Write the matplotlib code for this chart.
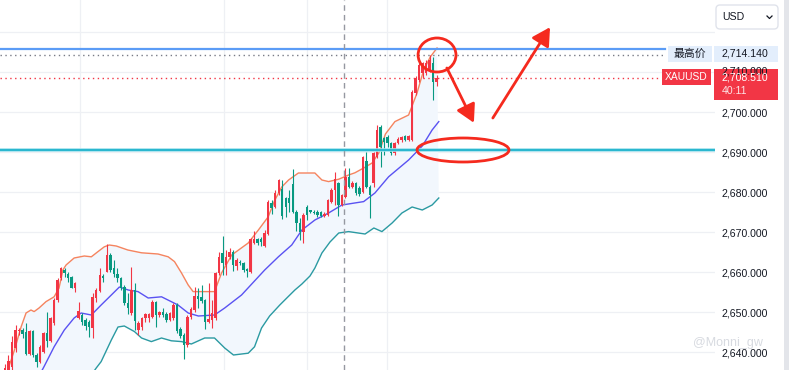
import matplotlib
matplotlib.use("Agg")
import matplotlib.pyplot as plt
import numpy as np
from matplotlib.patches import Ellipse, Rectangle, FancyBboxPatch

plt.rcParams['font.family'] = ['Liberation Sans', 'Noto Sans CJK SC', 'DejaVu Sans']

# candles (open, high, low, close)
opens = [2634.5, 2635.5, 2636.3, 2640.9, 2645.3, 2645.5, 2645.1, 2639.4, 2645.25, 2639.25,
         2637.6, 2640.1, 2644.7, 2642.75, 2647.2, 2653, 2658.4, 2660.5, 2659.4, 2658.8,
         2655.9, 2648.6, 2649.25, 2648, 2647.4, 2645.9, 2653.4, 2655.25, 2659.1, 2660.1,
         2664.25, 2660.9, 2659.4, 2658.4, 2656.3, 2652.2, 2649.7, 2655.5, 2645.5, 2646.3,
         2648.6, 2648.6, 2648.8, 2652.6, 2649.25, 2649.9, 2649.4, 2648, 2648.4, 2651.75,
         2645.7, 2644.25, 2641.75, 2648.7, 2650.5, 2654, 2653.7, 2653, 2647.6, 2648,
         2648.4, 2659.7, 2664.7, 2661.75, 2663.7, 2665.1, 2661.5, 2662.6, 2662.3, 2660.7,
         2660.1, 2667.3, 2668.2, 2668.2, 2666.5, 2669.5, 2677.3, 2676.3, 2679.7, 2680.7,
         2678.4, 2678.4, 2682, 2675.1, 2672.3, 2670.1, 2676.3, 2675.3, 2675.1, 2675.1,
         2675.1, 2674, 2674.25, 2677.6, 2680.5, 2682.3, 2676.75, 2678.8, 2683.8, 2681.2,
         2682.2, 2681, 2680.1, 2687.8, 2681.3, 2682.2, 2688.8, 2696.2, 2693.4, 2693.7,
         2692.3, 2689.7, 2692.3, 2693, 2694, 2693, 2693, 2704.7, 2708, 2709.7,
         2709.7, 2710.5, 2712.2, 2707.6]
highs = [2637, 2639.25, 2644, 2646.75, 2645.9, 2646, 2647.2, 2645.5, 2645.5, 2639.7,
         2641.75, 2645.1, 2650.1, 2648.8, 2653.4, 2658.4, 2661.3, 2660.9, 2659.9, 2659.1,
         2657.6, 2652.6, 2649.7, 2648.4, 2648, 2654.7, 2655.9, 2660.9, 2659.4, 2666.9,
         2664.7, 2663, 2660.9, 2658.8, 2656.75, 2654.7, 2661.3, 2657.2, 2647.75, 2648.8,
         2649.7, 2649.7, 2653, 2652.75, 2650.25, 2650.9, 2649.9, 2650.1, 2652.2, 2652.2,
         2646.3, 2644.7, 2649.25, 2651.3, 2656.3, 2655.9, 2656.75, 2653.2, 2657.3, 2653,
         2660.1, 2665.1, 2669, 2665.5, 2665.9, 2665.5, 2663.4, 2663, 2662.6, 2660.9,
         2668.4, 2670.3, 2668.5, 2668.8, 2670.5, 2678, 2678, 2680.5, 2683.2, 2683,
         2678.8, 2680.5, 2685.7, 2675.5, 2673.4, 2674.7, 2676.75, 2675.6, 2675.4, 2675.5,
         2675.3, 2675.1, 2678.2, 2680.9, 2685, 2682.6, 2679.5, 2685.9, 2685.9, 2682.8,
         2682.6, 2681.5, 2689, 2690.1, 2681.75, 2690.1, 2696.75, 2696.75, 2693.8, 2694.25,
         2692.6, 2692.6, 2693.7, 2694, 2694.25, 2694.25, 2705.5, 2709, 2712.2, 2712.6,
         2713, 2714.14, 2713.8, 2709.3]
lows = [2633, 2635, 2635.5, 2640.1, 2644.25, 2643.4, 2639.25, 2639.25, 2638.8, 2636.3,
        2637.2, 2639.7, 2641.3, 2642.6, 2646.75, 2652.6, 2658, 2658.8, 2657.6, 2655.9,
        2655.1, 2648.25, 2646.75, 2645.5, 2643.8, 2643.6, 2652.6, 2655.1, 2657.6, 2659.9,
        2660.1, 2658.8, 2657.6, 2655.5, 2651.75, 2649.4, 2649.25, 2645.5, 2644.25, 2645.5,
        2647.6, 2647.4, 2648.4, 2646.3, 2648.8, 2648.8, 2647.6, 2647.75, 2648, 2644.7,
        2643.4, 2638.2, 2641.3, 2648.2, 2650.1, 2650.9, 2652.2, 2645.7, 2647.2, 2645.9,
        2648, 2659.25, 2659.25, 2659.25, 2663.2, 2660.3, 2660.5, 2661.75, 2660.1, 2658.8,
        2659.8, 2667, 2666.8, 2666.5, 2666.2, 2669.25, 2674.5, 2675.9, 2679.25, 2673.2,
        2673.7, 2675.1, 2674.7, 2670.3, 2668, 2667.2, 2673, 2674.8, 2674.5, 2673.7,
        2673.7, 2673.7, 2674, 2677.3, 2676.75, 2674, 2676.5, 2678.4, 2680.9, 2680.9,
        2679.25, 2679, 2679.8, 2680.9, 2673.4, 2681.3, 2688.4, 2686.3, 2689.25, 2691.3,
        2689.25, 2689.25, 2692, 2692.6, 2692.8, 2692.8, 2692.8, 2704.25, 2707.6, 2708.4,
        2709.3, 2710, 2703, 2706.4]
closes = [2636, 2637.75, 2642.4, 2645.5, 2645.5, 2644.4, 2639.4, 2645.25, 2639.25, 2637.6,
          2641.3, 2644.7, 2642.75, 2648.4, 2653, 2658, 2660.9, 2659.7, 2658.4, 2656.1,
          2657.2, 2650.25, 2647.4, 2646.6, 2646.3, 2653.8, 2655.5, 2659.25, 2658.6, 2664.25,
          2660.5, 2659.4, 2658.4, 2655.9, 2652.2, 2651.1, 2655.5, 2647.75, 2647.2, 2648.6,
          2649.4, 2649.4, 2652.6, 2649.25, 2649.9, 2649.25, 2648, 2649.7, 2651.75, 2645.3,
          2644, 2641.75, 2648.8, 2650.7, 2654, 2653.2, 2652.8, 2647.6, 2648.2, 2649.7,
          2659.7, 2663.8, 2662.2, 2663.8, 2665.1, 2661.75, 2663, 2662.2, 2660.5, 2660.3,
          2668.2, 2668.2, 2667.2, 2667.6, 2669.8, 2677.6, 2675.9, 2679.7, 2683, 2674,
          2676.3, 2677.2, 2675.1, 2672.3, 2670.1, 2674.25, 2674.25, 2675.1, 2674.8, 2674.25,
          2674, 2674.5, 2678, 2680.5, 2683.2, 2676.75, 2679.25, 2683.8, 2681.3, 2682.3,
          2679.7, 2679.5, 2688.7, 2681.3, 2679.25, 2689.7, 2695.5, 2691.3, 2692.6, 2692.2,
          2689.7, 2692.2, 2693.2, 2693.8, 2693, 2694, 2705.1, 2708.4, 2711.75, 2712.2,
          2712.2, 2713, 2707.6, 2708.51]

# bollinger band nodes (candle index, price)
upper_idx = [0.8, 2.7, 4.6, 6, 7.4, 8.3, 9.7, 11.7, 14, 15.4, 16.5, 17.4, 19.7, 22.6, 24.6,
             26.5, 28.3, 29.7, 31.7, 35, 38.9, 43.6, 46.5, 48.3, 50.3, 52.2, 53.6, 59.7, 61.7,
             64.6, 69.3, 72.2, 75, 76.9, 78.9, 80.8, 83.6, 88.3, 90.3, 92.2, 95.1, 97.9, 99.7,
             102.2, 104.6, 106.5, 108.4, 111.1, 115, 117.4, 119.3, 121.2, 123.1]
upper_val = [2635.5, 2640.5, 2646.3, 2649.75, 2650.5, 2650.1, 2651, 2652.6, 2653.8, 2656,
             2660.5, 2661.75, 2663.5, 2664, 2663.8, 2665.1, 2666.3, 2666.75, 2666.5, 2665.5,
             2664.8, 2664.5, 2663.8, 2662.6, 2659.75, 2656.75, 2655.1, 2655.1, 2659.75, 2664.25,
             2667.25, 2670.5, 2673.8, 2678, 2681.3, 2683, 2684.75, 2684.75, 2683, 2682.6,
             2683.2, 2684.25, 2684.8, 2686, 2687.25, 2689.75, 2694.5, 2697.6, 2699.25, 2704.75,
             2710.5, 2713.8, 2716]
mid_idx = [10.3, 11.1, 14, 16.9, 19.7, 21.7, 24.6, 27.4, 30.3, 32.6, 35.1, 37.9, 40.8, 44.6,
           49.3, 52.2, 55.1, 59.7, 62.6, 67.4, 74, 77.9, 81.7, 84.6, 88.3, 92.2, 96, 102.2,
           105.4, 109.3, 115, 118.9, 121.7, 123.6]
mid_val = [2635, 2636.3, 2641.3, 2645.5, 2648.5, 2649.75, 2649.25, 2651.75, 2654.25, 2656.25,
           2655.5, 2655.1, 2653.5, 2653.8, 2651.75, 2649.75, 2649, 2649.25, 2651, 2654.25,
           2660.5, 2663.8, 2666.75, 2670.5, 2673, 2674.75, 2676.75, 2677.6, 2679.75, 2683.8,
           2688, 2691.5, 2695.5, 2697.6]
lower_idx = [24.6, 26, 27.4, 30.3, 32.2, 34, 36.9, 38.9, 41.7, 44.6, 47.4, 50.3, 53.1, 56.9,
             59.7, 62.6, 65.1, 69.3, 71.1, 73.1, 75.4, 78.3, 80.3, 82.6, 84.6, 86.9, 88.3,
             90.3, 92.6, 95.1, 97.9, 102.6, 105.1, 107.4, 110.3, 113.1, 116, 118.9, 121.7, 123.6]
lower_val = [2634.25, 2636, 2637.6, 2643, 2646.25, 2646.5, 2645.1, 2643.5, 2642.6, 2643.5,
             2642.8, 2642.6, 2642, 2643.5, 2643.5, 2641, 2639.25, 2639.7, 2641.3, 2646,
             2649, 2651.75, 2653.5, 2655.5, 2657, 2659, 2661, 2664.75, 2667.5, 2669.75,
             2670.1, 2669.5, 2671, 2670.1, 2672.25, 2674.75, 2676.25, 2675.5, 2676.75, 2678.5]

price_ticks = [2640, 2650, 2660, 2670, 2680, 2690, 2700]
hidden_tick = 2710
grid_prices = [2640, 2650, 2660, 2670, 2680, 2690, 2700, 2710, 2720]
grid_idx = [21.4, 62.4, 86.0, 108.8]
crosshair_idx = 96.6
support = 2690.6
drawn_line = 2715.75
session_high = 2714.14
last_price = 2708.51

up_c = '#F23645'
dn_c = '#089981'

fig = plt.figure(figsize=(7.94, 3.70), dpi=100)
ax = fig.add_axes([0, 0, 715 / 794, 1])
ax.set_xlim(-1.42, 202.3)
ax.set_ylim(2635.5, 2728)
for s in ax.spines.values():
    s.set_visible(False)

for p in grid_prices:
    ax.axhline(p, color='#EEF0F4', lw=0.9, zorder=0)
for g in grid_idx:
    ax.axvline(g, color='#EEF0F4', lw=0.9, zorder=0)

# band fill and lines
poly_x = upper_idx + lower_idx[::-1] + [upper_idx[0]]
poly_y = upper_val + lower_val[::-1] + [lower_val[0]]
ax.fill(poly_x, poly_y, color='#F2F7FD', lw=0, zorder=1)
ax.plot(upper_idx, upper_val, color='#F5845F', lw=1.0, zorder=2)
ax.plot(mid_idx, mid_val, color='#5A52F2', lw=1.0, zorder=2)
ax.plot(lower_idx, lower_val, color='#2B9AA2', lw=1.0, zorder=2)

# candles
o = np.array(opens); h = np.array(highs); l = np.array(lows); c = np.array(closes)
idx = np.arange(len(o))
cols = np.where(c >= o, up_c, dn_c)
ax.vlines(idx, l, h, colors=cols, lw=0.8, zorder=3)
body_lo = np.minimum(o, c)
body_h = np.maximum(np.abs(c - o), 0.3)
ax.bar(idx, body_h, bottom=body_lo, width=0.7, color=cols, lw=0, zorder=4)

# horizontal lines
xr = 665 / 715
ax.axhline(drawn_line, xmin=0, xmax=xr, color='#5B9CF6', lw=1.6, zorder=5)
ax.axhline(session_high, xmin=0, xmax=xr, color='#787B86', lw=1, ls=(0, (1, 2.5)), zorder=5)
ax.axhline(last_price, xmin=0, xmax=660 / 715, color=up_c, lw=1, ls=(0, (1, 2.5)), zorder=5)
ax.axhline(support, color='#9FE0EC', lw=2.6, zorder=5)
ax.axhline(support, color='#1FB3CC', lw=1.3, zorder=6)
ax.axvline(crosshair_idx, color='#9598A1', lw=1, ls=(0, (4, 3)), zorder=6)

# hand drawn marks
red = '#F52A1E'
ax.add_patch(Ellipse((123.1, 2714.25), 10.8, 8.5, fill=False, ec=red, lw=2, zorder=8))
ax.add_patch(Ellipse((130.5, 2690.5), 26.2, 6, fill=False, ec=red, lw=2, zorder=8))
ax.annotate('', xy=(133.6, 2697.3), xytext=(125.9, 2711),
            arrowprops=dict(arrowstyle='-|>,head_length=0.9,head_width=0.5', color=red,
                            lw=2, shrinkA=0, shrinkB=0, mutation_scale=12), zorder=8)
ax.annotate('', xy=(155.3, 2721.2), xytext=(139.0, 2698.5),
            arrowprops=dict(arrowstyle='-|>,head_length=0.9,head_width=0.5', color=red,
                            lw=2, shrinkA=0, shrinkB=0, mutation_scale=12), zorder=8)

# price axis
ax.set_xticks([])
ax.yaxis.tick_right()
ax.set_yticks(price_ticks)
ax.set_yticklabels(['{:,.3f}'.format(p) for p in price_ticks])
ax.tick_params(axis='y', length=0, pad=5, labelsize=7.6, labelcolor='#131722')

# overlay for the labels on the price scale
ov = fig.add_axes([0, 0, 1, 1], zorder=10)
ov.set_xlim(0, 794)
ov.set_ylim(370, 0)
ov.axis('off')
ov.patch.set_alpha(0)

ov.add_patch(Rectangle((784, 0), 5, 370, color='#E3E5EA', lw=0))
ov.add_patch(FancyBboxPatch((716, 5), 62, 24, boxstyle='round,pad=0,rounding_size=4',
                            fc='white', ec='#E0E3EB', lw=1))
ov.text(722, 17.5, 'USD', fontsize=7.6, color='#131722', va='center', ha='left')
ov.plot([767, 769.5, 772], [16, 18.5, 16], color='#131722', lw=0.9)

# the 2,710 label peeks out between the two price boxes
peek = ov.text(722, 72, '{:,.3f}'.format(hidden_tick), fontsize=7.6, color='#131722',
               ha='left', va='center')
clip = Rectangle((714, 62), 64, 7, transform=ov.transData, visible=False)
ov.add_patch(clip)
peek.set_clip_path(clip)

ov.add_patch(Rectangle((668, 46), 44, 16, color='#E3EEFC', lw=0))
ov.text(690, 54, '最高价', fontsize=7.8, color='#131722', ha='center', va='center')
ov.add_patch(Rectangle((714, 46), 64, 16, color='#E3EEFC', lw=0))
ov.text(722, 54, '2,714.140', fontsize=7.6, color='#131722', ha='left', va='center')

ov.add_patch(Rectangle((662, 69), 49, 16, color=up_c, lw=0))
ov.text(686.5, 77, 'XAUUSD', fontsize=7.4, color='white', ha='center', va='center')
ov.add_patch(Rectangle((714, 69), 64, 31, color=up_c, lw=0))
ov.text(722, 77, '2,708.510', fontsize=7.6, color='white', ha='left', va='center')
ov.text(722, 91, '40:11', fontsize=7.6, color='#FDE3E5', ha='left', va='center')

ov.text(693, 343, '@Monni_gw', fontsize=9, color='#D7DAE0', ha='left', va='center', zorder=0)

fig.savefig('out.png', dpi=100, facecolor='white')
